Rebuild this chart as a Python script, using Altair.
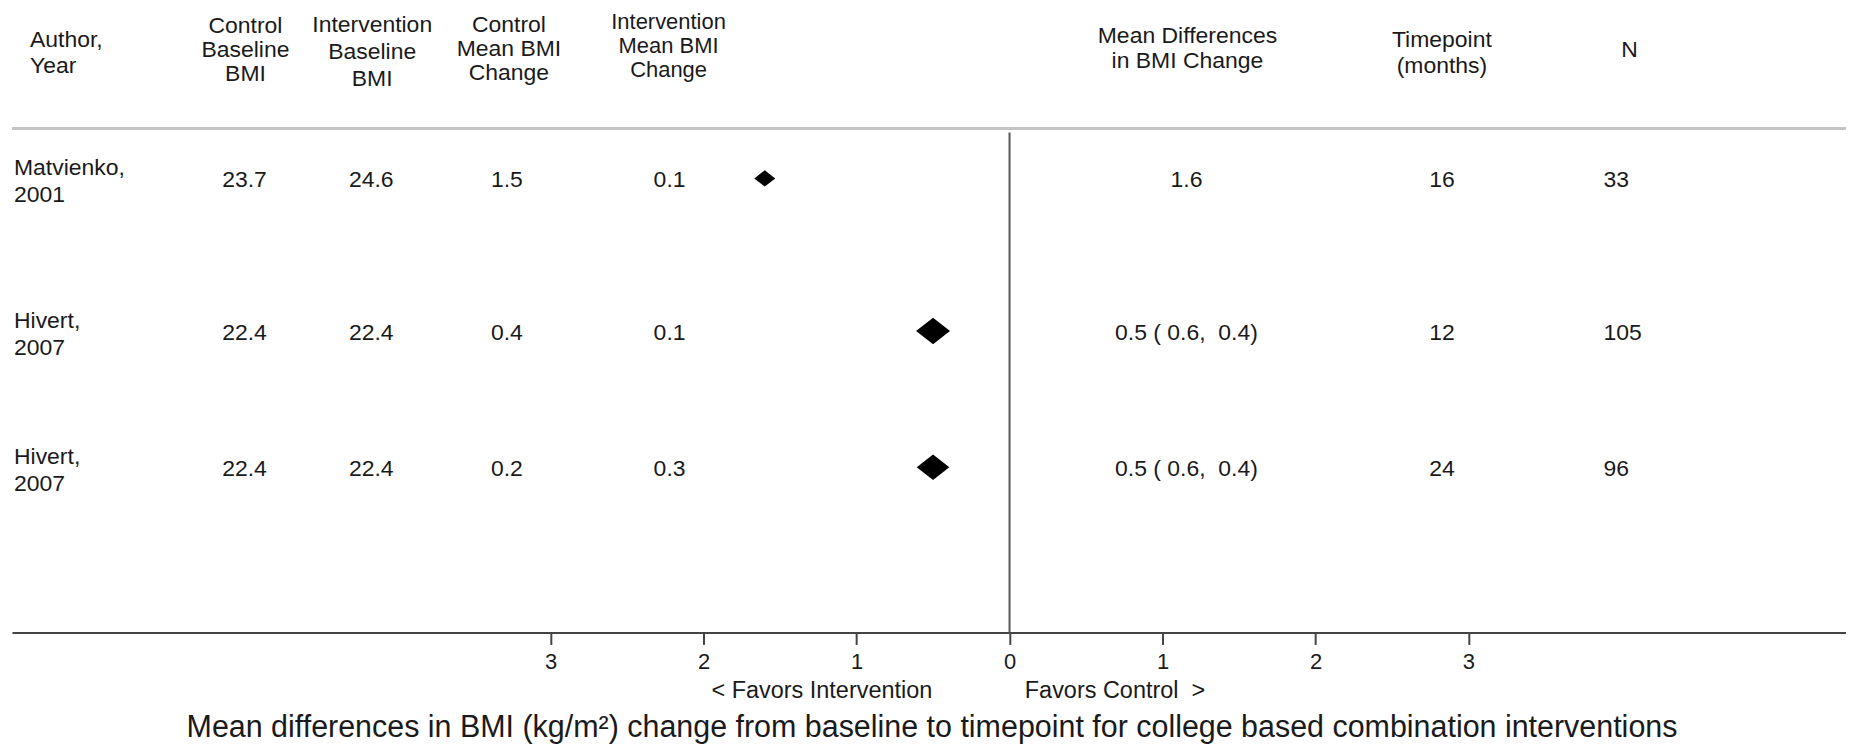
import altair as alt
import pandas as pd

# ---------------- data ----------------
authors = ["Matvienko,\n2001", "Hivert,\n2007", "Hivert,\n2007"]
ctrl_baseline = [23.7, 22.4, 22.4]
int_baseline = [24.6, 22.4, 22.4]
ctrl_change = [1.5, 0.4, 0.2]
int_change = [0.1, 0.1, 0.3]
mean_diff = [1.6, 0.5, 0.5]
ci_first = [None, 0.6, 0.6]
ci_second = [None, 0.4, 0.4]
timepoint = [16, 12, 24]
n_total = [33, 105, 96]
row_index = [1, 2, 3]

headers = [
    "Author,\nYear",
    "Control\nBaseline\nBMI",
    "Intervention\nBaseline\nBMI",
    "Control\nMean BMI\nChange",
    "Intervention\nMean BMI\nChange",
    "Mean Differences\nin BMI Change",
    "Timepoint\n(months)",
    "N",
]
axis_ticks = [-3, -2, -1, 0, 1, 2, 3]
favors_left = "< Favors Intervention"
favors_right = "Favors Control \u00a0>"
caption = ("Mean differences in BMI (kg/m\u00b2) change from baseline to timepoint "
           "for college based combination interventions")

md_labels = []
for m, a, b in zip(mean_diff, ci_first, ci_second):
    if a is None:
        md_labels.append(f"{m:.1f}")
    else:
        md_labels.append(f"{m:.1f} ( {a:.1f}, \u00a0{b:.1f})")

df = pd.DataFrame({
    "idx": row_index,
    "author": authors,
    "cb": ctrl_baseline,
    "ib": int_baseline,
    "cc": ctrl_change,
    "ic": int_change,
    "md": mean_diff,
    "mdlab": md_labels,
    "tp": timepoint,
    "n": n_total,
})

# ---------------- layout / style ----------------
W, H = 1838, 625
FONT = "Liberation Sans"
INK = "#1a1a1a"
DIAMOND = "M-1,0L0,-0.78L1,0L0,0.78Z"

xscale = alt.Scale(domain=[-6.521, 5.468], nice=False, zero=False)
xaxis = alt.Axis(values=axis_ticks, labelExpr="'' + abs(datum.value)", grid=False,
                 title=None, domainColor="#444444", domainWidth=2,
                 tickColor="#444444", tickWidth=2, tickSize=12,
                 labelFont=FONT, labelFontSize=22, labelColor=INK,
                 labelPadding=7)
yrow = alt.Y("idx:Q", scale=alt.Scale(domain=[1, 2, 3], range=[170, 323, 459.5]),
             axis=None)

base = alt.Chart(df)
layers = []

# top separator (thin band)
layers.append(
    base.transform_filter("datum.idx == 1").mark_rect(color="#c4c4c4")
    .encode(x=alt.value(0), x2=alt.value(W), y=alt.value(118.5), y2=alt.value(121.5))
)

# zero line (no-effect reference at 0)
layers.append(
    base.transform_filter("datum.idx == 1").transform_calculate(pos="0")
    .mark_rule(color="#555555", strokeWidth=2)
    .encode(x=alt.X("pos:Q", scale=xscale, axis=xaxis),
            y=alt.value(124), y2=alt.value(H))
)

# diamonds
layers.append(
    base.transform_calculate(pos="-datum.md")
    .mark_point(shape=DIAMOND, filled=True, color="#000000", opacity=1)
    .encode(x=alt.X("pos:Q", scale=xscale, axis=xaxis),
            y=yrow,
            size=alt.Size("n:Q", scale=alt.Scale(domain=[33, 105], range=[441, 1156]),
                          legend=None))
)

# header texts (y = centre of first line)
hdr_x = [18, 234, 361, 498, 658, 1178, 1433, 1621]
hdr_y = [31.5, 17, 16.5, 16.5, 13, 27, 31.5, 41.5]
hdr_lh = [26, 24, 27, 24, 24, 25, 26, 26]
hdr_fs = [23, 23, 23, 23, 22, 23, 23, 23]
hdr_align = ["left"] + ["center"] * 7
for t, hx, hy, lh, fs, al in zip(headers, hdr_x, hdr_y, hdr_lh, hdr_fs, hdr_align):
    layers.append(
        alt.Chart(pd.DataFrame({"t": [t]}))
        .mark_text(font=FONT, fontSize=fs, color=INK, align=al, baseline="middle",
                   lineBreak="\n", lineHeight=lh)
        .encode(x=alt.value(hx), y=alt.value(hy), text="t:N")
    )

# author column
layers.append(
    base.mark_text(font=FONT, fontSize=23, color=INK, align="left",
                   baseline="middle", lineBreak="\n", lineHeight=27, dy=-10)
    .encode(x=alt.value(2), y=yrow, text="author:N")
)

# value columns
cols = [("cb", ".1f", 233, "center"), ("ib", ".1f", 360, "center"),
        ("cc", ".1f", 496, "center"), ("ic", ".1f", 659, "center"),
        ("mdlab", None, 1177, "center"), ("tp", "d", 1433, "center"),
        ("n", "d", 1595, "left")]
for field, fmt, cx, al in cols:
    if fmt is None:
        txt = alt.Text(f"{field}:N")
    else:
        txt = alt.Text(f"{field}:Q", format=fmt)
    layers.append(
        base.mark_text(font=FONT, fontSize=23, color=INK, align=al,
                       baseline="middle", dy=2)
        .encode(x=alt.value(cx), y=yrow, text=txt)
    )

# favors annotations
layers.append(
    alt.Chart(pd.DataFrame({"t": [favors_left]}))
    .mark_text(font=FONT, fontSize=23.5, color=INK, align="left", baseline="middle")
    .encode(x=alt.value(701), y=alt.value(684), text="t:N")
)
layers.append(
    alt.Chart(pd.DataFrame({"t": [favors_right]}))
    .mark_text(font=FONT, fontSize=23.5, color=INK, align="left", baseline="middle")
    .encode(x=alt.value(1015), y=alt.value(684), text="t:N")
)

# caption
layers.append(
    alt.Chart(pd.DataFrame({"t": [caption]}))
    .mark_text(font=FONT, fontSize=30.5, color=INK, align="center",
               baseline="alphabetic")
    .encode(x=alt.value(922), y=alt.value(729.5), text="t:N")
)

chart = (
    alt.layer(*layers)
    .properties(width=W, height=H,
                background="white",
                padding={"left": 4, "top": 0, "right": 0, "bottom": 112},
                autosize=alt.AutoSizeParams(type="none"))
    .configure_view(stroke=None, strokeWidth=0)
)

chart.save("out.html", embed_options={"renderer": "svg", "actions": False})
